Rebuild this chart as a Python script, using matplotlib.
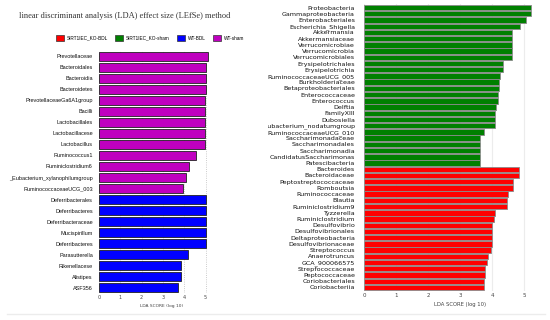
import matplotlib.pyplot as plt
from matplotlib.patches import Patch
from matplotlib.lines import Line2D
from matplotlib.transforms import Bbox, TransformedBbox

# ---- data (LDA scores, log10), top to bottom ----
wt_sham_taxa = ['Prevotellaceae', 'Bacteroidales', 'Bacteroidia', 'Bacteroidetes',
                'PrevotellaceaeGa6A1group', 'Bacilli', 'Lactobacillales',
                'Lactobacillacese', 'Lactobacillus', 'Ruminococcus1',
                'Ruminiclostridium6', '_Eubacterium_xylanophilumgroup',
                'RuminococcaceaeUCG_003']
wt_sham_lda = [5.1, 5.0, 5.0, 5.0, 4.98, 4.97, 4.97, 4.97, 4.97, 4.55, 4.2, 4.06, 3.93]

wt_bdl_taxa = ['Deferribacterales', 'Deferribacteres', 'Deferribacteraceae',
               'Mucispirillum', 'Deferribacteres', 'Parasutterella',
               'Rikenellacese', 'Alistipes', 'ASF356']
wt_bdl_lda = [5.02, 5.02, 5.02, 5.02, 5.02, 4.16, 3.84, 3.84, 3.72]

ko_sham_taxa = ['Proteobacteria', 'Gammaproteobacteria', 'Enterobacteriales',
                'Escherichia_Shigella', 'Akkermansia', 'Akkermansiaceae',
                'Verrucomicrobiae', 'Verrucomicrobia', 'Verrucomicrobiales',
                'Erysipelotrichales', 'Erysipelotrichia', 'RuminococcaceaeUCG_005',
                'Burkholderiaceae', 'Betaproteobacteriales', 'Enterococcaceae',
                'Enterococcus', 'Delftia', 'FamilyXIII', 'Dubosiella',
                '_Eubacterium_nodatumgroup', 'RuminococcaceaeUCG_010',
                'Saccharimonadaceae', 'Saccharimonadales', 'Saccharimonadia',
                'CandidatusSaccharimonas', 'Patescibacteria']
ko_sham_lda = [5.23, 5.23, 5.07, 4.89, 4.61, 4.61, 4.61, 4.61, 4.61, 4.34, 4.34,
               4.24, 4.23, 4.23, 4.2, 4.2, 4.11, 4.08, 4.08, 4.08, 3.75,
               3.62, 3.62, 3.62, 3.62, 3.62]

ko_bdl_taxa = ['Bacteroides', 'Bacteroidaceae', 'Peptostreptococcaceae', 'Romboutsia',
               'Ruminococcaceae', 'Blautia', 'Ruminiclostridium9', 'Tyzzerella',
               'Ruminiclostridium', 'Desulfovibrio', 'Desulfovibrionales',
               'Deltaproteobacteria', 'Desulfovibrionaceae', 'Streptococcus',
               'Anaerotruncus', 'GCA_900066575', 'Strepfococcaceae', 'Peptococcaceae',
               'Coriobacteriales', 'Coriobacteriia']
ko_bdl_lda = [4.84, 4.84, 4.66, 4.66, 4.5, 4.47, 4.47, 4.08, 4.06, 4.0, 4.0, 4.0,
              4.0, 3.96, 3.87, 3.84, 3.79, 3.78, 3.75, 3.75]

groups = ['SIRT1IEC_KO-BDL', 'SIRT1IEC_KO-sham', 'WT-BDL', 'WT-sham']
group_colors = ['#ff0000', '#008000', '#0000ff', '#bf00bf']
ticks = [0, 1, 2, 3, 4, 5]

W, H = 550, 320
fig = plt.figure(figsize=(W / 100, H / 100), dpi=100)
fig.patch.set_facecolor('white')


def px_axes(x0, x1, y0, y1):
    # pixel box (top-left origin) -> figure fraction
    return fig.add_axes([x0 / W, 1 - y1 / H, (x1 - x0) / W, (y1 - y0) / H])


narrow = ['Liberation Sans Narrow', 'Liberation Sans', 'DejaVu Sans']

# ---- left panel ----
ax1 = px_axes(99, 212, 50.9, 293.1)
l_taxa = wt_sham_taxa + wt_bdl_taxa
l_vals = wt_sham_lda + wt_bdl_lda
l_cols = [group_colors[3]] * len(wt_sham_taxa) + [group_colors[2]] * len(wt_bdl_taxa)
pos1 = list(range(len(l_taxa)))
ax1.barh(pos1, l_vals, height=0.8, color=l_cols, edgecolor='#222222',
         linewidth=0.6, zorder=2)
ax1.set_ylim(len(l_taxa) - 0.5, -0.5)
ax1.set_xlim(0, 5.3)
ax1.set_yticks(pos1, l_taxa, fontsize=4.0, family=narrow, color='#111111')
ax1.set_xticks(ticks, [str(t) for t in ticks], fontsize=3.5, color='#444444')
ax1.tick_params(axis='both', length=0, pad=1.5)
ax1.tick_params(axis='y', pad=4.5)
ax1.grid(axis='x', linestyle=':', color='#bbbbbb', linewidth=0.6, zorder=0)
for s in ax1.spines.values():
    s.set_visible(False)
ax1.set_xlabel('LDA SCORE (log 10)', fontsize=3.2, color='#444444', labelpad=1)
ax1.xaxis.set_label_coords((162 - 99) / 113, -0.045)

# ---- right panel ----
ax2 = px_axes(364, 540, 4.4, 290.6)
r_taxa = ko_sham_taxa + ko_bdl_taxa
r_vals = ko_sham_lda + ko_bdl_lda
r_cols = [group_colors[1]] * len(ko_sham_taxa) + [group_colors[0]] * len(ko_bdl_taxa)
pos2 = list(range(len(r_taxa)))
ax2.barh(pos2, r_vals, height=0.86, color=r_cols, edgecolor='#8a8a8a',
         linewidth=0.6, zorder=2)
ax2.set_ylim(len(r_taxa) - 0.5, -0.5)
ax2.set_xlim(0, 5.5)
ax2.set_yticks(pos2, r_taxa, fontsize=4.6, color='#111111')
ax2.set_xticks(ticks, [str(t) for t in ticks], fontsize=4, color='#444444')
ax2.tick_params(axis='both', length=0, pad=2)
ax2.tick_params(axis='y', pad=6.5)
ax2.grid(axis='x', linestyle='-', color='#ececec', linewidth=0.8, zorder=0)
for s in ax2.spines.values():
    s.set_visible(False)
ax2.set_xlabel('LDA SCORE (log 10)', fontsize=3.8, color='#444444')
ax2.xaxis.set_label_coords((460 - 364) / 176, -0.04)

# right panel labels are cut off where the left image begins
clip = TransformedBbox(Bbox.from_extents(268 / W, 0, 1, 1), fig.transFigure)
for t in ax2.get_yticklabels():
    t.set_clip_box(clip)
    t.set_clip_on(True)

# ---- title and legend ----
fig.text(19 / W, 1 - 16 / H, 'linear discriminant analysis (LDA) effect size (LEfSe) method',
         fontsize=6.0, family='Liberation Serif', color='#333333', va='center')

handles = [Patch(facecolor=c, edgecolor='#333333', linewidth=0.5) for c in group_colors]
fig.legend(handles, groups, loc='center', bbox_to_anchor=(150 / W, 1 - 38 / H),
           ncol=4, frameon=False, prop={'family': narrow, 'size': 3.4},
           handlelength=1.75, handleheight=1.3, handletextpad=0.5, columnspacing=1.6)

# faint separator at the bottom
fig.add_artist(Line2D([7 / W, 545 / W], [1 - 313.5 / H, 1 - 313.5 / H],
                      transform=fig.transFigure, color='#ececec', linewidth=1))

fig.savefig('out.png', dpi=100)
